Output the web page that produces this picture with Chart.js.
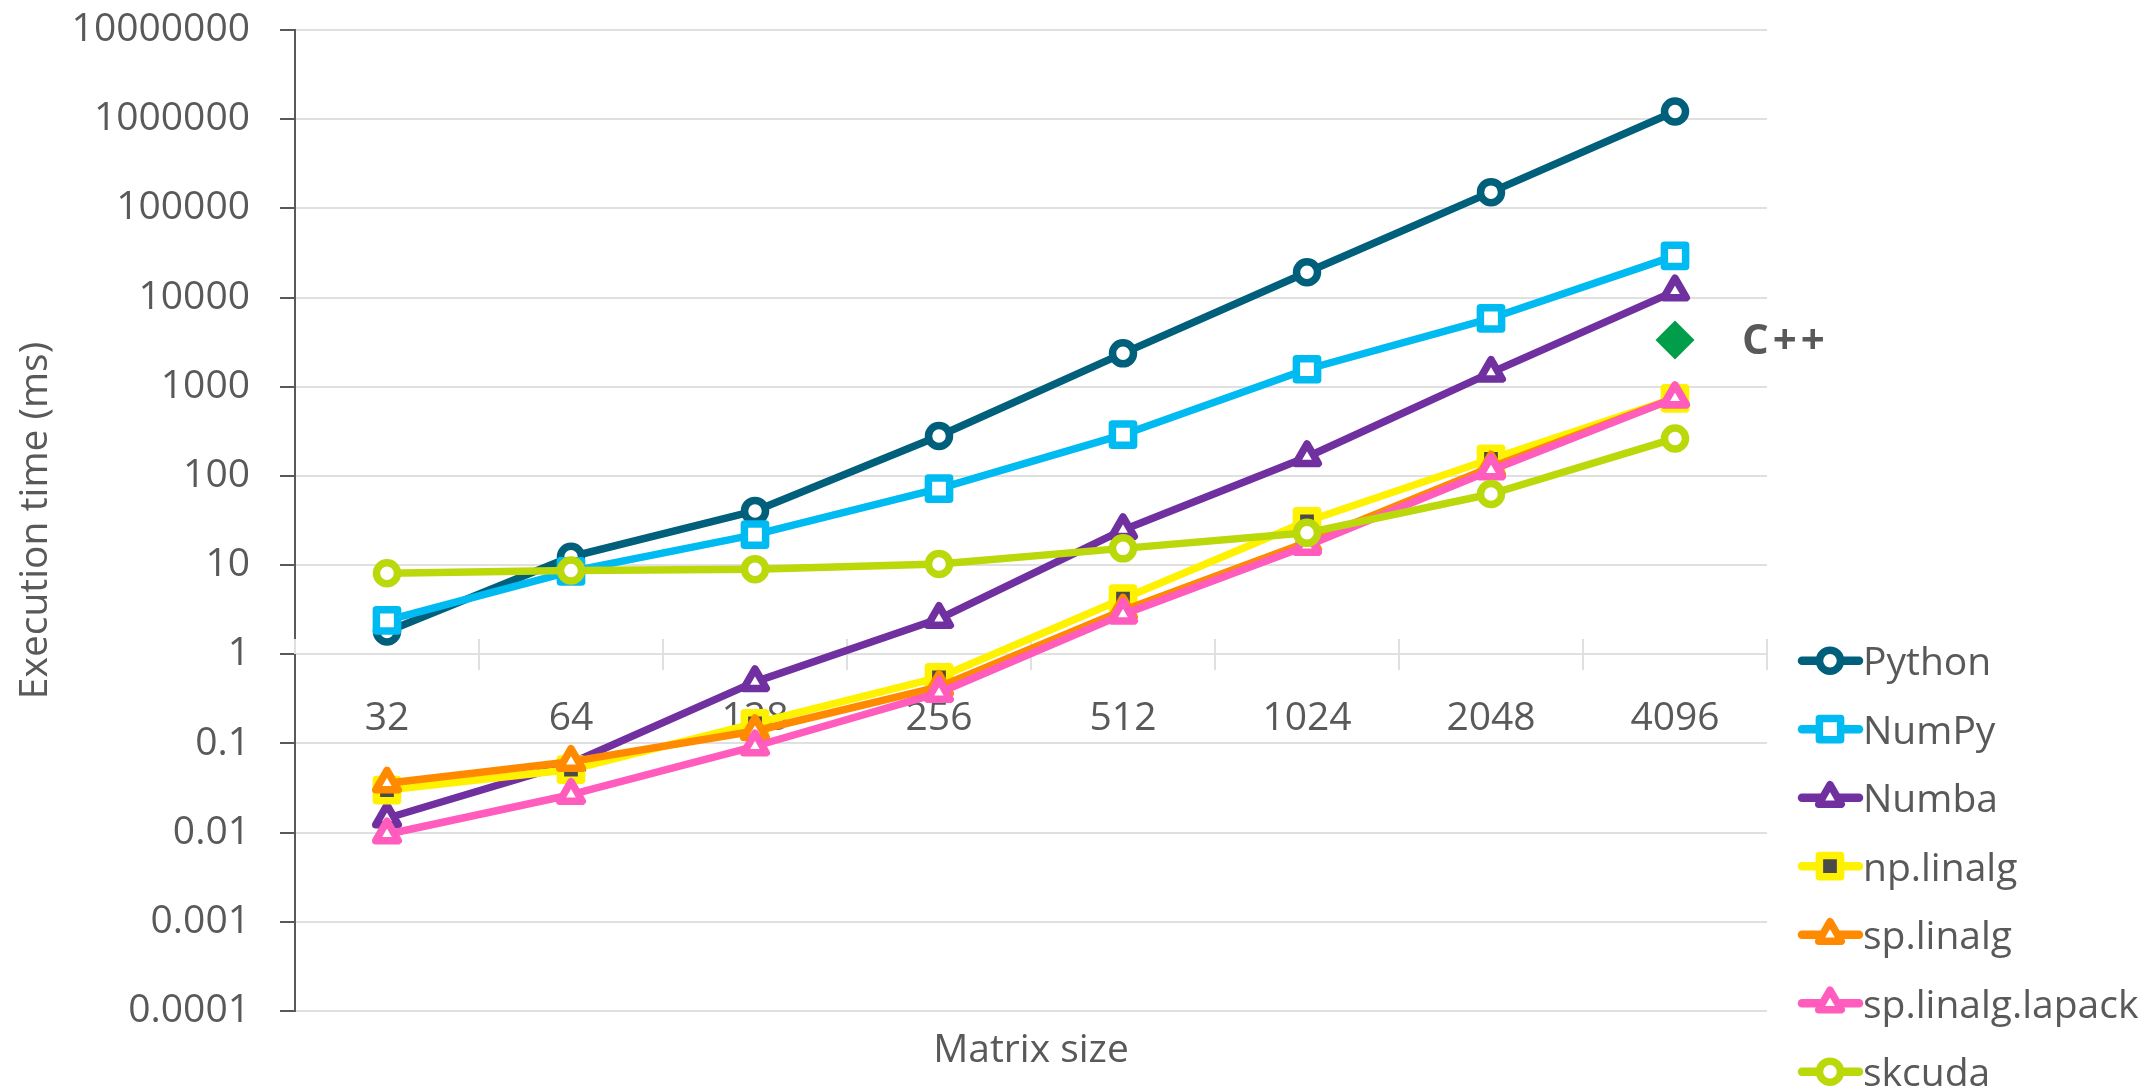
<!DOCTYPE html>
<html>
<head>
<meta charset="utf-8">
<title>Execution time by matrix size</title>
<script src="https://cdn.jsdelivr.net/npm/chart.js@4.4.1/dist/chart.umd.min.js"></script>
<style>
  html, body { margin: 0; padding: 0; background: #ffffff; }
  #wrap { width: 2152px; height: 1091px; }
</style>
</head>
<body>
<div id="wrap"><canvas id="chart" width="2152" height="1091"></canvas></div>
<script>
// Matrix sizes (category axis)
const matrixSizes = ['32', '64', '128', '256', '512', '1024', '2048', '4096'];

// Execution times in milliseconds
const python   = [1.8, 12.4, 40.5, 280, 2370, 19200, 152000, 1220000];
const numpy    = [2.4, 8.5, 22, 72, 290, 1570, 5850, 29300];
const numba    = [0.0145, 0.06, 0.49, 2.5, 24.8, 163, 1440, 11800];
const npLinalg = [0.030, 0.051, 0.168, 0.55, 4.2, 31, 155, 740];
const spLinalg = [0.0357, 0.0625, 0.138, 0.43, 3.1, 18, 125, 745];
const spLapack = [0.0096, 0.0266, 0.093, 0.37, 2.8, 16.5, 116, 745];
const skcuda   = [8.1, 8.7, 9.0, 10.3, 15.4, 23, 62.7, 263];
const cppTime  = 3340;   // C++ reference run, largest matrix only

// Logarithmic axis ticks
const yTickValues = [0.0001, 0.001, 0.01, 0.1, 1, 10, 100, 1000, 10000, 100000, 1000000, 10000000];
const yTickLabels = ['0.0001', '0.001', '0.01', '0.1', '1', '10', '100', '1000', '10000', '100000', '1000000', '10000000'];

const FONT = "'Open Sans', 'Noto Sans', sans-serif";
const TEXT = '#595959';
const GRID = '#e0e0e0';

Chart.defaults.font.family = FONT;
Chart.defaults.color = TEXT;

function series(label, data, color, pointStyle, radius, fill, order) {
  return {
    label, data, order,
    borderColor: color,
    backgroundColor: color,
    borderWidth: 7.5,
    borderJoinStyle: 'round',
    borderCapStyle: 'round',
    pointStyle,
    pointRadius: radius,
    pointBorderWidth: 7.5,
    pointBorderColor: color,
    pointBackgroundColor: fill,
    tension: 0
  };
}

const datasets = [
  series('Python',            python,   '#005F7A', 'circle',   10.5, '#ffffff', 7),
  series('NumPy',             numpy,    '#00BAF2', 'rect',     15,   '#ffffff', 6),
  series('Numba',             numba,    '#7030A0', 'triangle', 13,   '#ffffff', 5),
  series('np.linalg',         npLinalg, '#FFF200', 'rect',     15,   '#4a4a4a', 4),
  series('sp.linalg',         spLinalg, '#FF8A00', 'triangle', 13,   '#ffffff', 3),
  series('sp.linalg.lapack',  spLapack, '#FF5CBE', 'triangle', 13,   '#ffffff', 2),
  series('skcuda',            skcuda,   '#BBD80A', 'circle',   10.5, '#ffffff', 1),
  {
    label: 'C++',
    data: matrixSizes.map((s, i) => (i === matrixSizes.length - 1 ? cppTime : null)),
    showLine: false,
    pointStyle: 'rectRot',
    pointRadius: 19.5,
    pointBorderWidth: 0,
    pointBackgroundColor: '#009E4B',
    pointBorderColor: '#009E4B',
    order: 0,
    isCpp: true
  }
];

// Draws the crossing tick marks on the category axis, the x title,
// the "C++" annotation and the line+marker legend on the right.
const decorations = {
  id: 'decorations',
  beforeDatasetsDraw(chart) {
    const ctx = chart.ctx;
    const xs = chart.scales.x;
    const ys = chart.scales.y;
    const axisY = Math.round(ys.getPixelForValue(1));
    ctx.save();
    ctx.strokeStyle = GRID;
    ctx.lineWidth = 2;
    for (let i = 0; i <= matrixSizes.length; i++) {
      const px = Math.round(xs.getPixelForValue(i - 0.5));
      ctx.beginPath();
      ctx.moveTo(px, axisY - 15);
      ctx.lineTo(px, axisY);
      ctx.stroke();
    }
    ctx.restore();
    ctx.lineJoin = 'round';
  },
  afterDraw(chart) {
    const ctx = chart.ctx;
    const area = chart.chartArea;
    ctx.save();

    // x axis title
    ctx.fillStyle = TEXT;
    ctx.font = `39px ${FONT}`;
    ctx.textAlign = 'center';
    ctx.textBaseline = 'alphabetic';
    ctx.fillText('Matrix size', (area.left + area.right) / 2, area.bottom + 51);

    // C++ annotation next to its marker
    const cppIndex = chart.data.datasets.findIndex(d => d.isCpp);
    const cppPoint = chart.getDatasetMeta(cppIndex).data[matrixSizes.length - 1];
    ctx.font = `bold 42px ${FONT}`;
    ctx.textAlign = 'left';
    if ('letterSpacing' in ctx) ctx.letterSpacing = '4px';
    ctx.fillText('C++', cppPoint.x + 67, cppPoint.y + 14);
    if ('letterSpacing' in ctx) ctx.letterSpacing = '0px';

    // legend
    const items = chart.data.datasets.filter(d => !d.isCpp);
    const lx0 = area.right + 35, lx1 = area.right + 92, mx = area.right + 63, tx = area.right + 96;
    const top = 660.7, step = 68.5;
    ctx.font = `39px ${FONT}`;
    ctx.lineJoin = 'round';
    ctx.lineCap = 'round';
    items.forEach((d, i) => {
      const y = top + i * step;
      ctx.strokeStyle = d.borderColor;
      ctx.lineWidth = 8.5;
      ctx.beginPath();
      ctx.moveTo(lx0, y);
      ctx.lineTo(lx1, y);
      ctx.stroke();
      ctx.strokeStyle = d.pointBorderColor;
      ctx.fillStyle = d.pointBackgroundColor;
      ctx.lineWidth = d.pointBorderWidth;
      Chart.helpers.drawPoint(ctx, {
        pointStyle: d.pointStyle, radius: d.pointRadius, rotation: 0, borderWidth: d.pointBorderWidth
      }, mx, y);
      ctx.fillStyle = TEXT;
      ctx.textAlign = 'left';
      ctx.textBaseline = 'alphabetic';
      ctx.fillText(d.label, tx, y + 14.3);
    });
    ctx.restore();
  }
};

new Chart(document.getElementById('chart'), {
  type: 'line',
  data: { labels: matrixSizes, datasets },
  options: {
    responsive: false,
    animation: false,
    events: [],
    spanGaps: false,
    layout: { padding: { top: 30, right: 385, bottom: 80, left: 0 } },
    plugins: { legend: { display: false }, tooltip: { enabled: false } },
    scales: {
      x: {
        type: 'category',
        offset: true,
        position: { y: 1 },
        afterFit(scale) { scale.height = 0; },
        grid: {
          offset: true,
          drawOnChartArea: false,
          drawTicks: true,
          tickLength: 15,
          color: GRID,
          tickColor: GRID,
          lineWidth: 2
        },
        border: { display: true, color: GRID, width: 2 },
        ticks: { font: { size: 39 }, color: TEXT, padding: 26, maxRotation: 0, autoSkip: false }
      },
      y: {
        type: 'logarithmic',
        min: 0.0001,
        max: 10000000,
        afterBuildTicks(scale) { scale.ticks = yTickValues.map(v => ({ value: v })); },
        afterFit(scale) {
          scale.width = 295;
          scale.paddingTop = 0;
          scale.paddingBottom = 0;
        },
        grid: { color: GRID, lineWidth: 2, tickLength: 15, tickColor: TEXT, drawTicks: true },
        border: { display: true, color: TEXT, width: 2 },
        ticks: {
          font: { size: 39 },
          color: TEXT,
          padding: 30,
          autoSkip: false,
          callback: (value, index) => yTickLabels[index]
        },
        title: {
          display: true,
          text: 'Execution time (ms)',
          font: { size: 39 },
          color: TEXT,
          padding: { top: 12, bottom: 0 }
        }
      }
    }
  },
  plugins: [decorations]
});
</script>
</body>
</html>
